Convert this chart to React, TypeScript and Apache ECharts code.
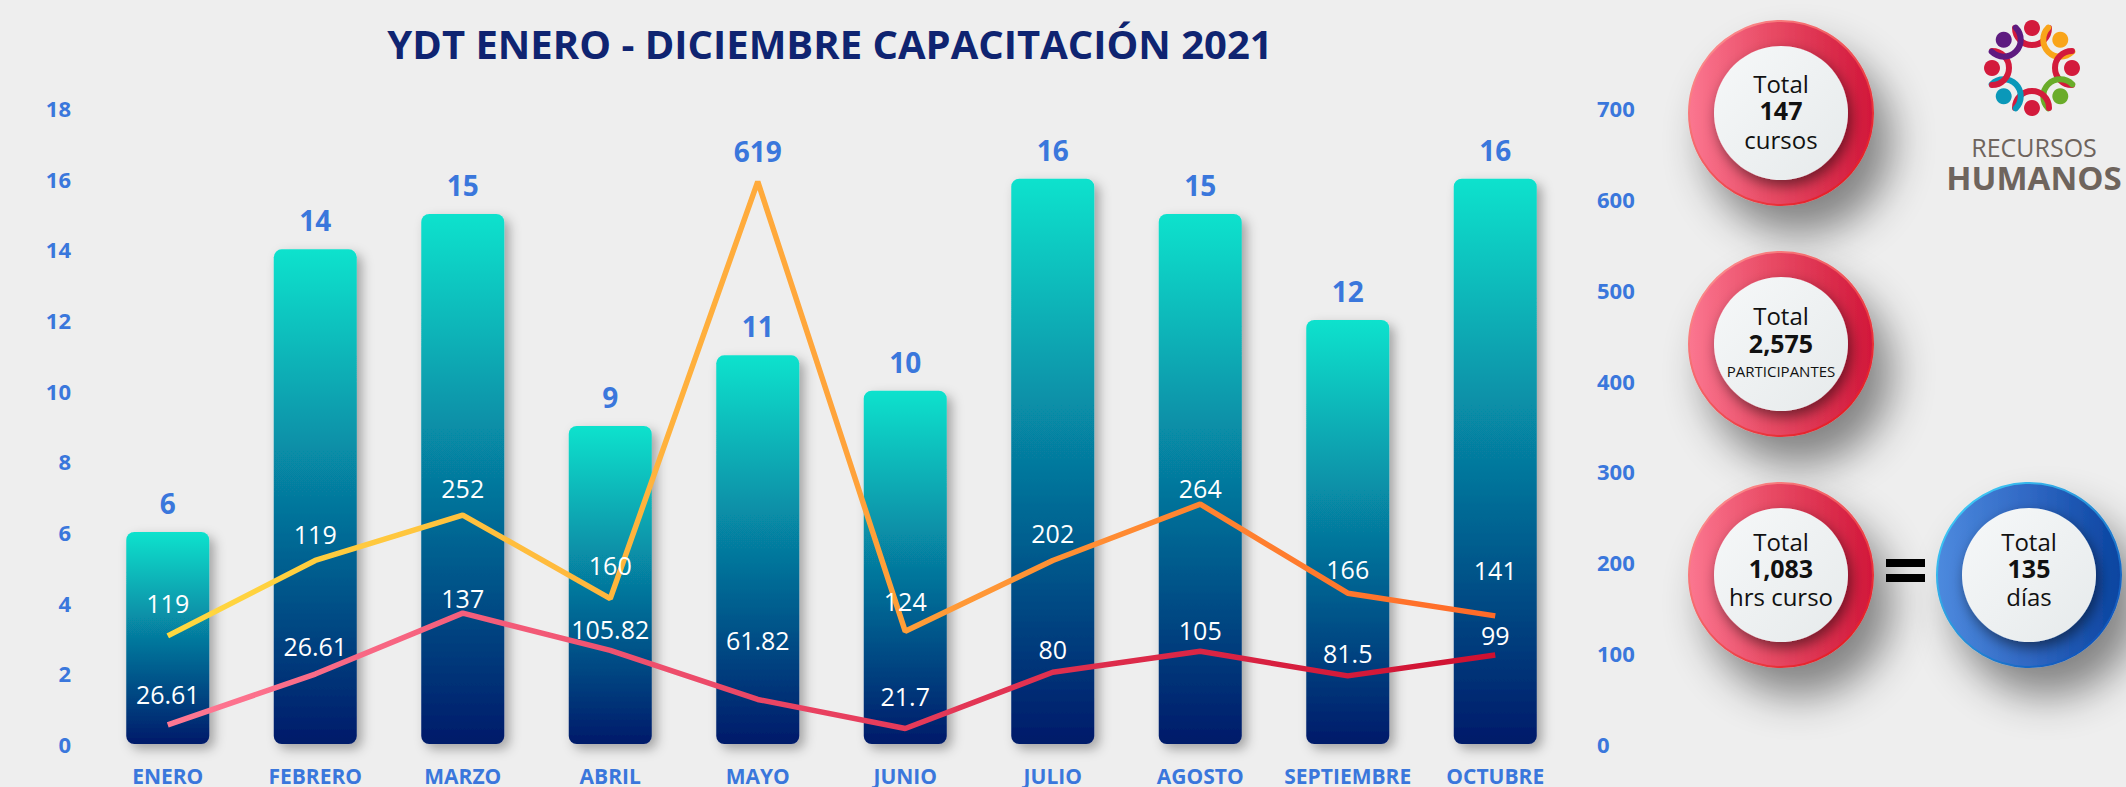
import React, { useEffect, useRef } from 'react';
import * as echarts from 'echarts';

const months = ['ENERO', 'FEBRERO', 'MARZO', 'ABRIL', 'MAYO', 'JUNIO', 'JULIO', 'AGOSTO', 'SEPTIEMBRE', 'OCTUBRE'];
const cursos = [6, 14, 15, 9, 11, 10, 16, 15, 12, 16];
const participantes = [119, 202, 252, 160, 619, 124, 202, 264, 166, 141];
const participantesLabels = ['119', '119', '252', '160', '619', '124', '202', '264', '166', '141'];
const horas = [21, 77, 144, 103, 49, 17, 79, 102, 75, 98];
const horasLabels = ['26.61', '26.61', '137', '105.82', '61.82', '21.7', '80', '105', '81.5', '99'];

const leftAxisMax = 18;
const leftAxisStep = 2;
const rightAxisMax = 700;
const rightAxisStep = 100;

const summaryHead = 'Total';
const summaryValues = ['147', '2,575', '1,083', '135'];
const summaryUnits = ['cursos', 'PARTICIPANTES', 'hrs curso', 'días'];

const title = 'YDT ENERO - DICIEMBRE CAPACITACIÓN 2021';
const logoLines = ['RECURSOS', 'HUMANOS'];

const FONT = "'Open Sans', 'Noto Sans', sans-serif";
const BLUE = '#3a77dc';

// label lifts (px above point), styling only
const partLift = [33, 26, 27, 34, 31, 30, 27, 16, 24, 46];
const horasLift = [31, 28, 15, 21, 59, 33, 23, 21, 23, 20];

function card(cx: number, cy: number, i: number, blue: boolean, ys: number[], unitSize: number) {
  const fill = blue
    ? new echarts.graphic.LinearGradient(0, 0, 1, 0, [
        { offset: 0, color: '#4d8ade' },
        { offset: 0.5, color: '#3068c4' },
        { offset: 1, color: '#0a44a0' },
      ])
    : new echarts.graphic.LinearGradient(0, 0, 1, 0, [
        { offset: 0, color: '#fb7690' },
        { offset: 0.45, color: '#e84a64' },
        { offset: 1, color: '#d2173a' },
      ]);
  const rim = blue
    ? new echarts.graphic.LinearGradient(0, 0, 1, 1, [
        { offset: 0, color: '#45dcff' },
        { offset: 1, color: '#0840b0' },
      ])
    : new echarts.graphic.LinearGradient(0, 0, 1, 1, [
        { offset: 0, color: '#ff9d9d' },
        { offset: 1, color: '#e00a14' },
      ]);
  return [
    {
      type: 'circle',
      shape: { cx, cy, r: 92 },
      style: {
        fill,
        stroke: rim,
        lineWidth: 2,
        shadowBlur: 42,
        shadowOffsetX: 18,
        shadowOffsetY: 28,
        shadowColor: 'rgba(0,0,0,0.45)',
      },
    },
    {
      type: 'circle',
      shape: { cx, cy, r: 67 },
      style: {
        fill: new echarts.graphic.LinearGradient(0, 0, 1, 1, [
          { offset: 0, color: '#f6f8f9' },
          { offset: 1, color: '#e6eaeb' },
        ]),
        shadowBlur: 14,
        shadowOffsetX: 3,
        shadowOffsetY: 6,
        shadowColor: 'rgba(0,0,0,0.5)',
      },
    },
    {
      type: 'text',
      style: { text: summaryHead, x: cx, y: ys[0], align: 'center', verticalAlign: 'middle', font: `400 24px ${FONT}`, lineHeight: 22, fill: '#111' },
    },
    {
      type: 'text',
      style: { text: summaryValues[i], x: cx, y: ys[1], align: 'center', verticalAlign: 'middle', font: `700 25px ${FONT}`, lineHeight: 22, fill: '#111' },
    },
    {
      type: 'text',
      style: { text: summaryUnits[i], x: cx, y: ys[2], align: 'center', verticalAlign: 'middle', font: `400 ${unitSize}px ${FONT}`, lineHeight: Math.min(22, unitSize), fill: '#111' },
    },
  ];
}

function logo(cx: number, cy: number) {
  const colors = ['#d31a3c', '#f9a51a', '#d31a3c', '#6aac2a', '#d31a3c', '#0a98b9', '#d31a3c', '#5e1b80'];
  const els: any[] = [];
  colors.forEach((c, k) => {
    const th = -Math.PI / 2 + (k * Math.PI) / 4;
    const hx = cx + 40 * Math.cos(th);
    const hy = cy + 40 * Math.sin(th);
    els.push({
      type: 'arc',
      shape: { cx: hx, cy: hy, r: 17, startAngle: th + Math.PI / 2, endAngle: th + (3 * Math.PI) / 2, clockwise: true },
      style: { stroke: c, lineWidth: 6, fill: 'none', lineCap: 'round' },
    });
  });
  colors.forEach((c, k) => {
    const th = -Math.PI / 2 + (k * Math.PI) / 4;
    els.push({
      type: 'circle',
      shape: { cx: cx + 40 * Math.cos(th), cy: cy + 40 * Math.sin(th), r: 8 },
      style: { fill: c },
    });
  });
  els.push({
    type: 'text',
    style: { text: logoLines[0], x: cx + 2, y: 147, align: 'center', verticalAlign: 'middle', font: `400 25px ${FONT}`, lineHeight: 22, fill: '#6e645d' },
  });
  els.push({
    type: 'text',
    style: { text: logoLines[1], x: cx + 2, y: 177, align: 'center', verticalAlign: 'middle', font: `700 33px ${FONT}`, lineHeight: 28, fill: '#6e645d' },
  });
  return els;
}

export default function App() {
  const ref = useRef<HTMLDivElement>(null);
  useEffect(() => {
    document.body.style.margin = '0';
    const chart = echarts.init(ref.current!, undefined, { renderer: 'svg' });
    const graphic: any[] = [
      {
        type: 'text',
        style: { text: title, x: 830, y: 43, align: 'center', verticalAlign: 'middle', font: `700 40px ${FONT}`, fill: '#0f2471' },
      },
      ...card(1781, 113, 0, false, [83, 110, 139], 24),
      ...card(1781, 344, 1, false, [315, 343, 371], 15),
      ...card(1781, 575, 2, false, [541, 568, 596], 24),
      ...card(2029, 575, 3, true, [541, 568, 596], 24),
      { type: 'rect', shape: { x: 1886, y: 559, width: 39, height: 8 }, style: { fill: '#000' } },
      { type: 'rect', shape: { x: 1886, y: 574, width: 39, height: 8 }, style: { fill: '#000' } },
      ...logo(2032, 68),
    ];
    const option: any = {
      animation: false,
      backgroundColor: '#eeeeee',
      grid: { left: 94, right: 557, top: 108, bottom: 43 },
      xAxis: {
        type: 'category',
        data: months,
        axisLine: { show: false },
        axisTick: { show: false },
        axisLabel: {
          color: BLUE,
          fontSize: 21,
          fontWeight: 'bold',
          fontFamily: FONT,
          margin: 32,
          verticalAlign: 'middle',
          lineHeight: 18,
          interval: 0,
        },
      },
      yAxis: [
        {
          type: 'value',
          min: 0,
          max: leftAxisMax,
          interval: leftAxisStep,
          splitLine: { show: false },
          axisLine: { show: false },
          axisTick: { show: false },
          axisLabel: { color: BLUE, fontSize: 22, fontWeight: 'bold', fontFamily: FONT, margin: 23 },
        },
        {
          type: 'value',
          min: 0,
          max: rightAxisMax,
          interval: rightAxisStep,
          position: 'right',
          splitLine: { show: false },
          axisLine: { show: false },
          axisTick: { show: false },
          axisLabel: { color: BLUE, fontSize: 22, fontWeight: 'bold', fontFamily: FONT, margin: 28 },
        },
      ],
      series: [
        {
          type: 'bar',
          data: cursos,
          barWidth: 83,
          yAxisIndex: 0,
          itemStyle: {
            borderRadius: 8,
            color: new echarts.graphic.LinearGradient(0, 0, 0, 1, [
              { offset: 0, color: '#0be2cd' },
              { offset: 0.5, color: '#067a9e' },
              { offset: 1, color: '#011a6a' },
            ]),
            shadowBlur: 12,
            shadowOffsetX: 5,
            shadowOffsetY: 5,
            shadowColor: 'rgba(0,0,0,0.32)',
          },
          label: { show: true, position: 'top', distance: 15, color: BLUE, fontSize: 28, fontWeight: 'bold', fontFamily: FONT },
        },
        {
          type: 'line',
          yAxisIndex: 1,
          symbol: 'circle',
          symbolSize: 1,
          itemStyle: { color: 'rgba(0,0,0,0)' },
          lineStyle: {
            width: 5.5,
            color: new echarts.graphic.LinearGradient(0, 0, 1, 0, [
              { offset: 0, color: '#ffd93f' },
              { offset: 0.44, color: '#ffab3c' },
              { offset: 1, color: '#ff6a28' },
            ]),
          },
          label: { show: true, position: 'inside', color: '#ffffff', fontSize: 25, fontFamily: FONT },
          data: participantes.map((v, i) => ({
            value: v,
            label: Object.assign(
              { offset: [0, -partLift[i]], formatter: participantesLabels[i] },
              i === 4 ? { color: BLUE, fontSize: 28, fontWeight: 'bold' } : {}
            ),
          })),
        },
        {
          type: 'line',
          yAxisIndex: 1,
          symbol: 'circle',
          symbolSize: 1,
          itemStyle: { color: 'rgba(0,0,0,0)' },
          lineStyle: {
            width: 5.5,
            color: new echarts.graphic.LinearGradient(0, 0, 1, 0, [
              { offset: 0, color: '#ff7893' },
              { offset: 0.5, color: '#e8405f' },
              { offset: 1, color: '#cf1030' },
            ]),
          },
          label: { show: true, position: 'inside', color: '#ffffff', fontSize: 25, fontFamily: FONT },
          data: horas.map((v, i) => ({
            value: v,
            label: { offset: [0, -horasLift[i]], formatter: horasLabels[i] },
          })),
        },
      ],
      graphic,
    };
    chart.setOption(option);
    return () => chart.dispose();
  }, []);
  return <div ref={ref} style={{ width: 2126, height: 787 }} />;
}
